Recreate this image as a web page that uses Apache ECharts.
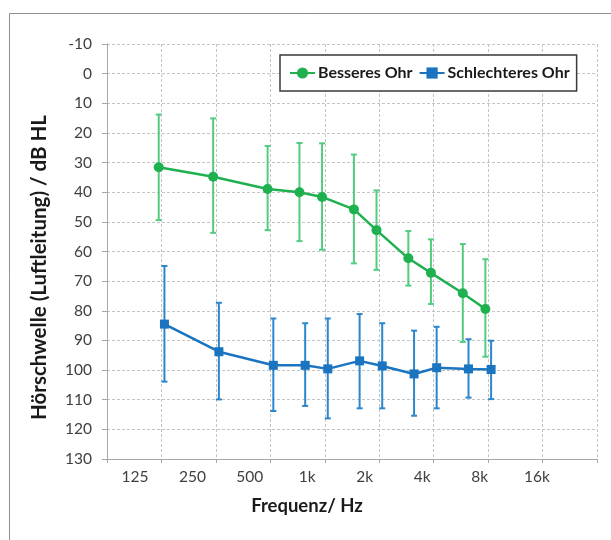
<!DOCTYPE html>
<html>
<head>
<meta charset="utf-8">
<script src="https://cdn.jsdelivr.net/npm/echarts@6/dist/echarts.min.js"></script>
<style>
  html, body { margin: 0; padding: 0; background: #fff; }
  #chart { width: 611px; height: 540px; }
</style>
</head>
<body>
<div id="chart"></div>
<script>
// Frequenzen (Hz) der Messpunkte
var freqs = [125, 250, 500, 750, 1000, 1500, 2000, 3000, 4000, 6000, 8000];
// Beschriftung der Frequenzachse
var freqLabels = ['125', '250', '500', '1k', '2k', '4k', '8k', '16k'];

// Besseres Ohr: Mittelwert, obere und untere Fehlergrenze (dB HL)
var besserMean = [31.6, 34.8, 38.9, 40.0, 41.6, 45.8, 52.8, 62.3, 67.2, 74.1, 79.4];
var besserLow  = [13.8, 15.1, 24.4, 23.4, 23.5, 27.3, 39.4, 53.1, 55.9, 57.5, 62.6];
var besserHigh = [49.4, 53.7, 52.8, 56.5, 59.4, 64.0, 66.2, 71.5, 77.7, 90.5, 95.5];

// Schlechteres Ohr
var schlechtMean = [84.5, 93.8, 98.4, 98.4, 99.6, 96.9, 98.6, 101.3, 99.2, 99.6, 99.8];
var schlechtLow  = [64.9, 77.3, 82.6, 84.2, 82.6, 81.1, 84.2, 86.7, 85.4, 89.6, 90.1];
var schlechtHigh = [103.9, 109.9, 113.8, 112.1, 116.3, 112.9, 112.9, 115.4, 112.9, 109.3, 109.8];

var FONT = 'Lato';
var GREEN = '#1fb14f', GREEN_BAR = '#52cc7e';
var BLUE = '#1a74c0', BLUE_BAR = '#2b86cc';

// Oktaven relativ zu 125 Hz, leicht versetzt damit die Fehlerbalken nicht aufeinander liegen
function octave(f, shift) {
    return Math.log(f / 125) / Math.LN2 + shift;
}
function linePoints(mean, shift) {
    return freqs.map(function (f, i) { return [octave(f, shift), mean[i]]; });
}
function barPoints(low, high, shift) {
    return freqs.map(function (f, i) { return [octave(f, shift), low[i], high[i]]; });
}

function errorBar(color) {
    return function (params, api) {
        var x = api.value(0);
        var top = api.coord([x, api.value(1)]);
        var bot = api.coord([x, api.value(2)]);
        var cap = 3;
        var style = { stroke: color, lineWidth: 2 };
        return {
            type: 'group',
            children: [
                { type: 'line', shape: { x1: top[0], y1: top[1], x2: bot[0], y2: bot[1] }, style: style },
                { type: 'line', shape: { x1: top[0] - cap, y1: top[1], x2: top[0] + cap, y2: top[1] }, style: style },
                { type: 'line', shape: { x1: bot[0] - cap, y1: bot[1], x2: bot[0] + cap, y2: bot[1] }, style: style }
            ]
        };
    };
}

var myChart = echarts.init(document.getElementById('chart'));

var dashed = { show: true, lineStyle: { color: '#c4c4c4', type: [3, 2], width: 1 } };

option = {
    animation: false,
    backgroundColor: '#fff',
    textStyle: { fontFamily: FONT },
    graphic: [{
        type: 'rect',
        shape: { x: 9.5, y: 13.5, width: 700, height: 600 },
        style: { fill: null, stroke: '#8f8f8f', lineWidth: 1 },
        silent: true
    }],
    legend: {
        data: ['Besseres Ohr', 'Schlechteres Ohr'],
        left: 280,
        top: 55,
        padding: [10, 7, 10, 9],
        itemGap: 6,
        itemWidth: 25,
        itemHeight: 14,
        borderColor: '#3a3a3a',
        borderWidth: 1.5,
        borderRadius: 0,
        backgroundColor: '#fff',
        textStyle: { fontFamily: FONT, fontWeight: 'bold', fontSize: 16, color: '#1a1a1a', padding: [0, 0, 0, -2] }
    },
    grid: [
        { left: 107, right: 14, top: 44, bottom: 81 },
        { left: 135, right: 74, top: 44, bottom: 81 }
    ],
    xAxis: [{
        gridIndex: 0,
        type: 'value',
        min: -1,
        max: 8,
        interval: 1,
        name: 'Frequenz/ Hz',
        nameLocation: 'middle',
        nameGap: 38,
        nameTextStyle: { fontFamily: FONT, fontWeight: 'bold', fontSize: 18.5, color: '#1a1a1a', padding: [0, 90, 0, 0] },
        axisLine: { show: true, onZero: false, lineStyle: { color: '#a6a6a6' } },
        axisTick: { show: true, length: 4, lineStyle: { color: '#a6a6a6' } },
        axisLabel: { show: false },
        splitLine: dashed
    }, {
        gridIndex: 1,
        type: 'category',
        boundaryGap: false,
        data: freqLabels,
        axisLine: { show: false, onZero: false },
        axisTick: { show: false },
        splitLine: { show: false },
        axisLabel: { margin: 10, fontFamily: FONT, fontSize: 15.5, color: '#404040' }
    }],
    yAxis: [{
        gridIndex: 0,
        type: 'value',
        inverse: true,
        min: -10,
        max: 130,
        interval: 10,
        name: 'Hörschwelle (Luftleitung) / dB HL',
        nameLocation: 'middle',
        nameGap: 57,
        nameTextStyle: { fontFamily: FONT, fontWeight: 'bold', fontSize: 20.5, color: '#1a1a1a', padding: [0, 32, 0, 0] },
        axisLine: { show: true, onZero: false, lineStyle: { color: '#a6a6a6' } },
        axisTick: { show: true, length: 5, lineStyle: { color: '#a6a6a6' } },
        axisLabel: { margin: 15, fontFamily: FONT, fontSize: 15.5, color: '#404040' },
        splitLine: dashed
    }, {
        gridIndex: 1,
        type: 'value',
        show: false,
        min: 0,
        max: 1
    }],
    series: [
        {
            name: 'Besseres Ohr Streuung',
            type: 'custom',
            xAxisIndex: 0, yAxisIndex: 0,
            renderItem: errorBar(GREEN_BAR),
            encode: { x: 0, y: [1, 2] },
            data: barPoints(besserLow, besserHigh, -0.05),
            z: 2
        },
        {
            name: 'Schlechteres Ohr Streuung',
            type: 'custom',
            xAxisIndex: 0, yAxisIndex: 0,
            renderItem: errorBar(BLUE_BAR),
            encode: { x: 0, y: [1, 2] },
            data: barPoints(schlechtLow, schlechtHigh, 0.055),
            z: 2
        },
        {
            name: 'Besseres Ohr',
            type: 'line',
            xAxisIndex: 0, yAxisIndex: 0,
            data: linePoints(besserMean, -0.05),
            symbol: 'circle',
            symbolSize: 10,
            lineStyle: { color: GREEN, width: 2.5 },
            itemStyle: { color: GREEN },
            z: 3
        },
        {
            name: 'Schlechteres Ohr',
            type: 'line',
            xAxisIndex: 0, yAxisIndex: 0,
            data: linePoints(schlechtMean, 0.055),
            symbol: 'rect',
            symbolSize: 9,
            lineStyle: { color: BLUE, width: 2.5 },
            itemStyle: { color: BLUE },
            z: 3
        }
    ]
};
myChart.setOption(option);
</script>
</body>
</html>
